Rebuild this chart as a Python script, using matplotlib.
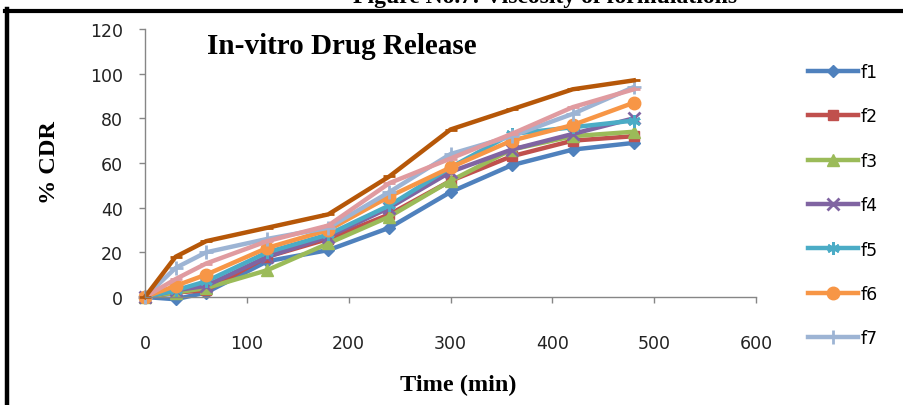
import matplotlib
matplotlib.use("Agg")
import matplotlib.pyplot as plt
from matplotlib.lines import Line2D

time_min = [0, 30, 60, 120, 180, 240, 300, 360, 420, 480]
f1 = [0, -1, 2, 16, 21, 31, 47, 59, 66, 69]
f2 = [0, 2, 3, 18, 26, 37, 52, 63, 70, 72]
f3 = [0, 2, 4, 12, 24, 36, 52, 66, 72, 74]
f4 = [0, 3, 5, 18, 27, 40, 56, 66, 73, 80]
f5 = [0, 3, 7, 20, 28, 41, 58, 73, 76, 79]
f6 = [0, 5, 10, 22, 30, 45, 58, 70, 77, 87]
f7 = [0, 13, 20, 26, 31, 47, 64, 72, 82, 94]
f8 = [0, 8, 15, 25, 32, 51, 62, 73, 85, 93]
f9 = [0, 18, 25, 31, 37, 54, 75, 84, 93, 97]

series = [f1, f2, f3, f4, f5, f6, f7, f8, f9]
labels = ["f1", "f2", "f3", "f4", "f5", "f6", "f7", "f8", "f9"]
colors = ["#4F81BD", "#C0504D", "#9BBB59", "#8064A2", "#4BACC6", "#F79646",
          "#9DB4D4", "#E09BA0", "#B65708"]
markers = ["D", "s", "^", "x", (6, 2, 0), "o", "+", "_", "_"]
msizes = [6, 7, 8, 8, 9, 9, 10, 8, 8]

W, H = 904, 406
fig = plt.figure(figsize=(W / 100, H / 100), dpi=100)
ax = fig.add_axes([145 / W, 1 - 298 / H, (756 - 145) / W, (298 - 30) / H])

handles = []
for y, lab, c, m, ms in zip(series, labels, colors, markers, msizes):
    mew = 2 if m in ("x", "+", "_", (6, 2, 0)) else 1
    ln, = ax.plot(time_min, y, color=c, lw=3.2, marker=m, markersize=ms,
                  markerfacecolor=c, markeredgecolor=c, markeredgewidth=mew,
                  clip_on=False, solid_joinstyle="round")
    handles.append(ln)

ax.set_xlim(0, 600)
ax.set_ylim(0, 120)
ax.set_xticks(range(0, 601, 100))
ax.set_yticks(range(0, 121, 20))
for s in ("top", "right"):
    ax.spines[s].set_visible(False)
for s in ("left", "bottom"):
    ax.spines[s].set_color("#868686")
    ax.spines[s].set_linewidth(1.0)
ax.tick_params(axis="both", direction="out", length=4, width=1, color="#868686",
               labelsize=12.5, labelcolor="#222222")
ax.tick_params(axis="y", pad=12)
ax.tick_params(axis="x", pad=23)
for t in ax.get_xticklabels() + ax.get_yticklabels():
    t.set_fontfamily("DejaVu Sans")

ax.text(342 / W, 1 - 47 / H, "In-vitro Drug Release", transform=fig.transFigure,
        ha="center", va="center", fontsize=21, fontweight="bold",
        family="Liberation Serif")

fig.text(458 / W, 1 - 385 / H, "Time (min)", ha="center", va="center",
         fontsize=17.5, fontweight="bold", family="Liberation Serif")
fig.text(50 / W, 1 - 163 / H, "% CDR", ha="center", va="center", rotation=90,
         fontsize=17.5, fontweight="bold", family="Liberation Serif")

fig.text(545 / W, 1 - 3 / H, "Figure No.7: Viscosity of formulations",
         ha="center", va="baseline", fontsize=17, fontweight="bold",
         family="Liberation Serif")

# black frame (top and left edges visible in the crop)
fig.add_artist(Line2D([5 / W, 1], [1 - 11.5 / H, 1 - 11.5 / H], color="black",
                      lw=3, transform=fig.transFigure))
fig.add_artist(Line2D([7 / W, 7 / W], [0, 1 - 10 / H], color="black",
                      lw=3.2, transform=fig.transFigure))

leg = fig.legend(handles[:7], labels[:7], loc="upper left",
                 bbox_to_anchor=(808 / W, 1 - 64 / H), frameon=False,
                 prop={"family": "DejaVu Sans", "size": 12.5},
                 handlelength=2.9, handletextpad=0.15, labelspacing=1.52,
                 borderaxespad=0, borderpad=0)

fig.savefig("out.png", dpi=100)
